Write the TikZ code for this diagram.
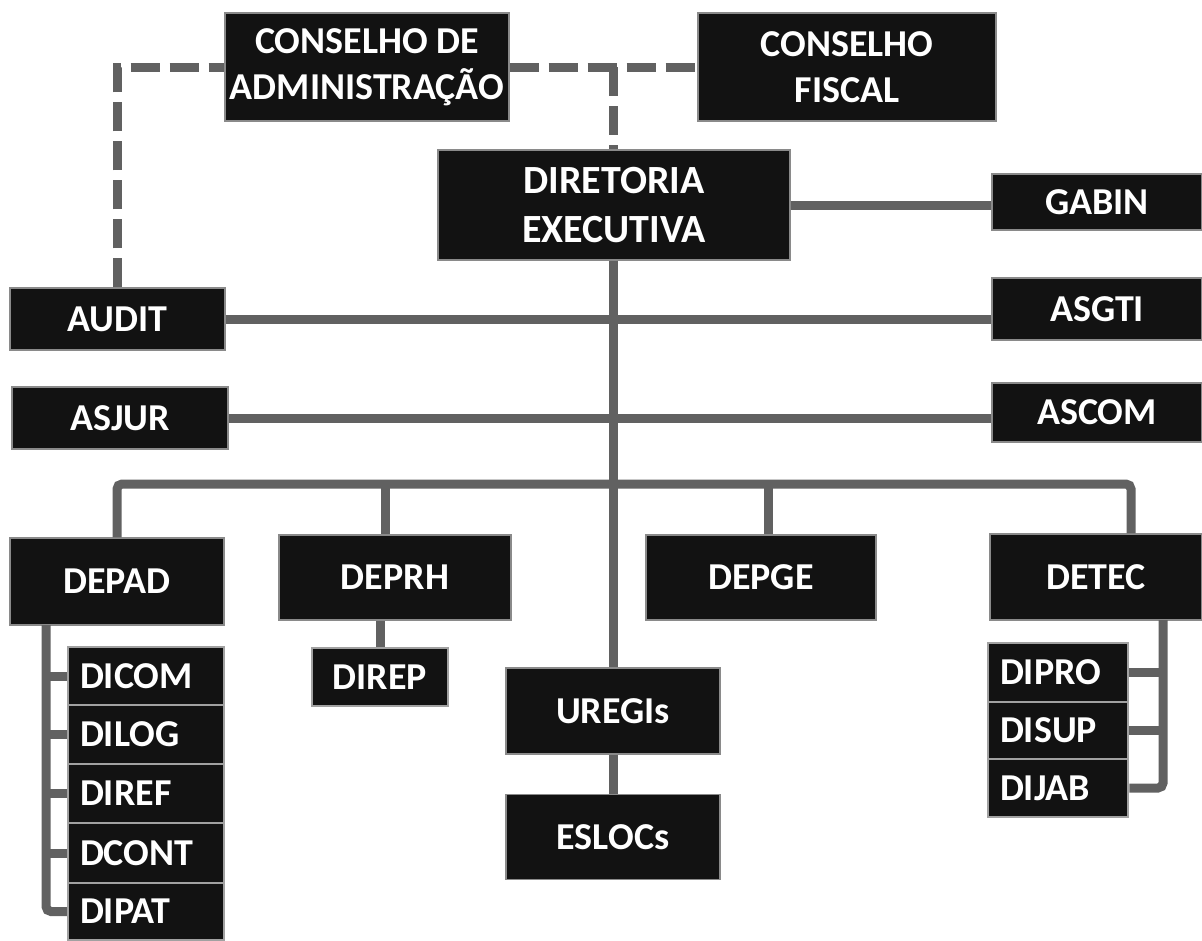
\documentclass[tikz,border=0pt]{standalone}
\usepackage{fontspec}
\setmainfont{Carlito}
\definecolor{boxc}{HTML}{121212}
\definecolor{edgec}{HTML}{8A8A8A}
\definecolor{linec}{HTML}{616161}
\begin{document}
\begin{tikzpicture}[x=1pt,y=-1pt,
  box/.style={fill=boxc, draw=edgec, line width=1.2pt, text=white,
    font=\fontsize{38}{46}\selectfont\bfseries, align=center, inner sep=0pt},
  subbox/.style={box, draw=edgec!80, line width=2.5pt, align=left,
    inner xsep=12pt, text width=#1},
  conn/.style={draw=linec, line width=9pt},
  dl/.style={draw=linec, line width=9pt, dash pattern=on 29pt off 10pt}]
\useasboundingbox (0,0) rectangle (1202,940);
% top
\node[box, minimum width=284pt, minimum height=108pt] (ca) at (367,67) {CONSELHO DE\\ADMINISTRAÇÃO};
\node[box, minimum width=298pt, minimum height=108pt] (cf) at (847,67) {CONSELHO\\FISCAL};
\node[box, minimum width=352pt, minimum height=110pt, font=\fontsize{40}{49}\selectfont\bfseries] (de) at (614,205) {DIRETORIA\\EXECUTIVA};
\node[box, minimum width=210pt, minimum height=56pt] (gabin) at (1097,202) {GABIN};
\node[box, minimum width=215pt, minimum height=62pt] (audit) at (117.5,319) {AUDIT};
\node[box, minimum width=210pt, minimum height=62pt] (asgti) at (1097,309) {ASGTI};
\node[box, minimum width=216pt, minimum height=62pt] (asjur) at (120,418) {ASJUR};
\node[box, minimum width=210pt, minimum height=59pt] (ascom) at (1097,412.5) {ASCOM};
% departments
\node[box, minimum width=214pt, minimum height=87pt] (depad) at (117,581.5) {DEPAD};
\node[box, minimum width=232pt, minimum height=85pt] (deprh) at (395,577.5) {DEPRH};
\node[box, minimum width=230pt, minimum height=85pt] (depge) at (761,577.5) {DEPGE};
\node[box, minimum width=212pt, minimum height=86pt] (detec) at (1096,577) {DETEC};
\node[box, draw=edgec!80, line width=2.5pt, minimum width=136pt, minimum height=58pt] (direp) at (380,677) {DIREP};
\node[box, minimum width=214pt, minimum height=86pt] (uregis) at (613,711) {UREGIs};
\node[box, minimum width=214pt, minimum height=85pt] (eslocs) at (613,837) {ESLOCs};
% DEPAD subs
\node[subbox=132pt, minimum height=58pt] (dicom) at (146,676) {DICOM};
\node[subbox=132pt, minimum height=59pt] (dilog) at (146,734.5) {DILOG};
\node[subbox=132pt, minimum height=59pt] (diref) at (146,793.5) {DIREF};
\node[subbox=132pt, minimum height=60pt] (dcont) at (146,853) {DCONT};
\node[subbox=132pt, minimum height=57pt] (dipat) at (146,911.5) {DIPAT};
% DETEC subs
\node[subbox=116pt, minimum height=59pt] (dipro) at (1058,672.5) {DIPRO};
\node[subbox=116pt, minimum height=57pt] (disup) at (1058,730.5) {DISUP};
\node[subbox=116pt, minimum height=58pt] (dijab) at (1058,788) {DIJAB};
% coordinates
\coordinate (d1) at (117,67);
\coordinate (dm) at (613,67);
\coordinate (b1) at (117,484);
\coordinate (b2) at (385,484);
\coordinate (b3) at (768,484);
\coordinate (b4) at (1131,484);
\coordinate (pa) at (46,625);
\coordinate (pt) at (1163,620);
% dashed
\draw[dl] (audit.north -| d1) -- (d1) -- (ca.west);
\draw[dl] (ca.east) -- (cf.west);
\draw[dl] (dm) -- (de.north -| dm);
% solid
\draw[conn] (de.east) -- (de.east -| gabin.west);
\draw[conn] (de.south -| dm) -- (uregis.north -| dm);
\draw[conn] (uregis.south -| dm) -- (eslocs.north -| dm);
\draw[conn] (audit.east) -- (audit.east -| asgti.west);
\draw[conn] (asjur.east) -- (asjur.east -| ascom.west);
\draw[conn, rounded corners=5pt] (b1 |- depad.north) -- (b1) -- (b4) -- (b4 |- detec.north);
\draw[conn] (b2) -- (b2 |- deprh.north);
\draw[conn] (b3) -- (b3 |- depge.north);
\draw[conn] (direp.north) -- (direp.north |- deprh.south);
\draw[conn, rounded corners=5pt] (pa) |- (dipat.west);
\foreach \n in {dicom,dilog,diref,dcont} \draw[conn] (pa |- \n.west) -- (\n.west);
\draw[conn, rounded corners=5pt] (pt) |- (dijab.east);
\foreach \n in {dipro,disup} \draw[conn] (pt |- \n.east) -- (\n.east);
\end{tikzpicture}
\end{document}
